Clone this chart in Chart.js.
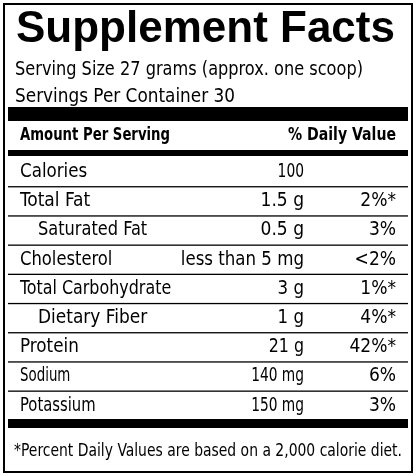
<!DOCTYPE html>
<html><head><meta charset="utf-8">
<script src="https://cdn.jsdelivr.net/npm/chart.js@4/dist/chart.umd.min.js"></script>
<style>html,body{margin:0;padding:0;background:#fff}#wrap{width:416px;height:476px}</style>
</head><body><div id="wrap"><canvas id="c"></canvas></div>
<script>
const title = "Supplement Facts";
const servingLines = ["Serving Size 27 grams (approx. one scoop)", "Servings Per Container 30"];
const nutrients = ["Calories", "Total Fat", "Saturated Fat", "Cholesterol", "Total Carbohydrate", "Dietary Fiber", "Protein", "Sodium", "Potassium"];
const amounts = ["100", "1.5 g", "0.5 g", "less than 5 mg", "3 g", "1 g", "21 g", "140 mg", "150 mg"];
const dailyValues = ["", "2%*", "3%", "<2%", "1%*", "4%*", "42%*", "6%", "3%"];
const indented = [false, false, true, false, false, true, false, false, false];
const footnote = "*Percent Daily Values are based on a 2,000 calorie diet.";

const NARROW = '"Liberation Sans Narrow", "DejaVu Sans Condensed", sans-serif';

const labelPlugin = {
  id: "label",
  afterDraw(chart) {
    const c = chart.ctx;
    c.save();
    c.fillStyle = "#000";
    c.strokeStyle = "#000";
    c.lineWidth = 2;
    c.strokeRect(4, 4, 408, 468);
    c.textBaseline = "middle";
    c.textAlign = "left";
    c.font = 'bold 44px "Liberation Sans", sans-serif';
    c.fillText(title, 16, 30, 380);
    c.font = "19px " + NARROW;
    c.fillText(servingLines[0], 15, 70, 348);
    c.fillText(servingLines[1], 15, 97, 220);
    c.fillRect(8, 107, 400, 14);
    c.fillRect(8, 150, 400, 6);
    c.fillRect(8, 419, 400, 9);
    c.font = "bold 17px " + NARROW;
    c.fillText("Amount Per Serving", 20, 136, 150);
    c.textAlign = "right";
    c.fillText("% Daily Value", 396, 136, 108);
    const rowH = 29.2;
    c.font = "19px " + NARROW;
    nutrients.forEach((n, i) => {
      const y = 172 + i * rowH;
      c.textAlign = "left";
      c.fillText(n, indented[i] ? 38 : 20, y, n.length * 8.4);
      c.textAlign = "right";
      c.fillText(amounts[i], 304, y, amounts[i].length * 8.8);
      c.fillText(dailyValues[i], 396, y);
      if (i < nutrients.length - 1) {
        c.fillRect(8, y + rowH / 2 - 0.5, 400, 1.3);
      }
    });
    c.textAlign = "left";
    c.font = "18px " + NARROW;
    c.fillText(footnote, 14, 451, 388);
    c.restore();
  }
};

new Chart(document.getElementById("c"), {
  type: "bar",
  data: { labels: nutrients, datasets: [{ data: [], backgroundColor: "#000" }] },
  options: {
    responsive: true, maintainAspectRatio: false, animation: false,
    plugins: { legend: { display: false }, tooltip: { enabled: false } },
    scales: { x: { display: false }, y: { display: false } }
  },
  plugins: [labelPlugin]
});
</script></body></html>
